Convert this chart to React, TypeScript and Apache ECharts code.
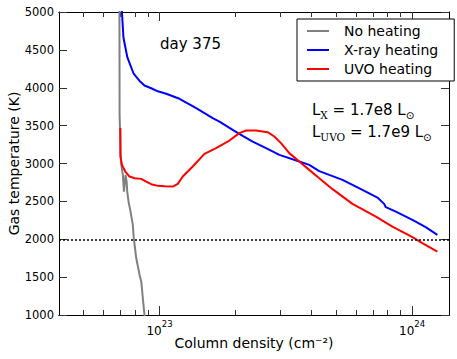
import React, { useEffect, useRef } from 'react';
import * as echarts from 'echarts';

// ---- data ----
const noHeatingN = [6.94e22, 6.95e22, 7.01e22, 7.06e22, 7.16e22, 7.23e22, 7.34e22, 7.41e22, 7.45e22, 7.54e22, 7.68e22, 7.84e22, 7.91e22, 8.09e22, 8.34e22, 8.47e22, 8.59e22, 8.72e22, 8.8e22];
const noHeatingT = [5200, 3643, 3158, 2982, 2850, 2629, 2850, 2762, 2629, 2497, 2365, 2189, 2014, 1749, 1529, 1440, 1221, 1000, 870];

const xrayN = [7.08e22, 7.10e22, 7.20e22, 7.46e22, 7.90e22, 8.34e22, 8.72e22, 9.27e22, 9.85e22, 1.063e23, 1.20e23, 1.397e23, 1.624e23, 1.727e23, 1.949e23, 2.134e23, 2.338e23, 2.641e23, 2.982e23, 3.576e23, 3.916e23, 4.29e23, 4.698e23, 5.303e23, 5.808e23, 6.561e23, 7.292e23, 7.749e23, 7.87e23, 8.619e23, 1.003e24, 1.132e24, 1.259e24];
const xrayT = [5100, 4991, 4660, 4400, 4185, 4090, 4030, 3993, 3953, 3920, 3854, 3731, 3599, 3554, 3445, 3365, 3290, 3203, 3114, 3026, 2982, 2900, 2850, 2784, 2718, 2629, 2550, 2467, 2423, 2365, 2255, 2159, 2057];

const uvoN = [7.0e22, 7.0e22, 7.10e22, 7.32e22, 7.61e22, 7.97e22, 8.47e22, 8.86e22, 9.27e22, 9.85e22, 1.047e23, 1.129e23, 1.181e23, 1.236e23, 1.354e23, 1.506e23, 1.675e23, 1.891e23, 2.071e23, 2.201e23, 2.411e23, 2.68e23, 2.848e23, 3.027e23, 3.265e23, 3.576e23, 3.916e23, 4.29e23, 4.842e23, 5.808e23, 7.187e23, 8.357e23, 1.003e24, 1.098e24, 1.259e24];
const uvoT = [3467, 3092, 2982, 2894, 2828, 2806, 2797, 2762, 2727, 2705, 2700, 2696, 2731, 2828, 2960, 3128, 3203, 3303, 3401, 3435, 3435, 3414, 3356, 3269, 3137, 3026, 2916, 2806, 2661, 2467, 2299, 2167, 2027, 1948, 1837];

const seriesNames = ['No heating', 'X-ray heating', 'UVO heating'];
const xMajorTicks = [1e23, 1e24];
const xMinorTicks = [5e22, 6e22, 7e22, 8e22, 9e22, 2e23, 3e23, 4e23, 5e23, 6e23, 7e23, 8e23, 9e23];
const X_MIN = 4e22;
const X_MAX = 1.4e24;
const Y_MIN = 1000;
const Y_MAX = 5000;
const Y_STEP = 500;
const refTemperature = 2000;

const FONT = 'DejaVu Sans';
const lg = (v: number) => Math.log10(v);
const pairs = (n: number[], t: number[]) => n.map((v, i) => [lg(v), t[i]]);

export default function App() {
  const ref = useRef<HTMLDivElement>(null);
  useEffect(() => {
    document.body.style.margin = '0';
    const chart = echarts.init(ref.current!, undefined, { renderer: 'svg' });
    const axisLine = { show: true, lineStyle: { color: '#000', width: 1 } };
    const tickColor = '#333';
    const mkX = (position: string, ticks: number[], len: number, labels: boolean, name?: string) => ({
      type: 'value',
      position,
      min: lg(X_MIN),
      max: lg(X_MAX),
      axisLine,
      splitLine: { show: false },
      axisTick: { show: true, inside: true, length: len, customValues: ticks.map(lg), lineStyle: { color: tickColor, width: 1 } },
      axisLabel: labels
        ? {
            show: true,
            customValues: xMajorTicks.map(lg),
            margin: 4,
            formatter: (v: number) => `{b|10}{s|${Math.round(v)}}`,
            rich: {
              b: { fontSize: 12, fontFamily: FONT, color: '#000', lineHeight: 18, verticalAlign: 'bottom' },
              s: { fontSize: 8.5, fontFamily: FONT, color: '#000', lineHeight: 8, verticalAlign: 'top' },
            },
          }
        : { show: false },
      name,
      nameLocation: 'middle',
      nameGap: 21,
      nameMoveOverlap: false,
      nameTextStyle: { fontSize: 14, fontFamily: FONT, color: '#000' },
    });
    const mkY = (position: string, labels: boolean, name?: string) => ({
      type: 'value',
      position,
      min: Y_MIN,
      max: Y_MAX,
      interval: Y_STEP,
      axisLine,
      splitLine: { show: false },
      axisTick: { show: true, inside: true, length: 8, lineStyle: { color: tickColor, width: 1 } },
      axisLabel: labels
        ? { show: true, fontSize: 11.5, fontFamily: FONT, color: '#000', margin: 5, showMinLabel: true, showMaxLabel: true, formatter: (v: number) => String(v) }
        : { show: false },
      name,
      nameLocation: 'middle',
      nameGap: 38,
      nameMoveOverlap: false,
      nameTextStyle: { fontSize: 14, fontFamily: FONT, color: '#000' },
    });
    const subRich = {
      m: { fontSize: 15, fontFamily: FONT, fill: '#000', lineHeight: 22, verticalAlign: 'middle' },
      s: { fontSize: 10.5, fontFamily: 'DejaVu Serif', fill: '#000', lineHeight: 14, verticalAlign: 'bottom' },
      o: { fontSize: 10.5, fontFamily: FONT, fill: '#000', lineHeight: 14, verticalAlign: 'bottom' },
    };
    chart.setOption({
      animation: false,
      backgroundColor: '#fff',
      grid: { left: 59, right: 8, top: 12, bottom: 44, containLabel: false, outerBoundsMode: 'none' },
      xAxis: [
        mkX('bottom', xMajorTicks, 9, true, 'Column density (cm\u207B\u00B2)'),
        mkX('bottom', xMinorTicks, 5, false),
        mkX('top', xMajorTicks, 9, false),
        mkX('top', xMinorTicks, 5, false),
      ],
      yAxis: [mkY('left', true, 'Gas temperature (K)'), mkY('right', false)],
      legend: {
        orient: 'vertical',
        left: 297,
        top: 19,
        padding: [5, 16, 5, 10],
        itemGap: 5,
        itemWidth: 22,
        itemHeight: 2,
        icon: 'rect',
        borderColor: '#000',
        borderWidth: 1,
        borderRadius: 0,
        backgroundColor: '#fff',
        textStyle: { fontSize: 14, fontFamily: FONT, color: '#000', padding: [0, 0, 0, 10] },
        data: seriesNames,
      },
      graphic: [
        { type: 'text', left: 160, top: 36, style: { text: 'day 375', fontSize: 15, fontFamily: FONT, fill: '#000' } },
        { type: 'text', left: 312, top: 102, style: { text: '{m|L}{s|X}{m| = 1.7e8 L}{o|\u2299}', rich: subRich } },
        { type: 'text', left: 312, top: 124, style: { text: '{m|L}{s|UVO}{m| = 1.7e9 L}{o|\u2299}', rich: subRich } },
      ],
      series: [
        {
          name: seriesNames[0],
          type: 'line',
          data: pairs(noHeatingN, noHeatingT),
          showSymbol: false,
          symbol: 'none',
          color: '#808080',
          lineStyle: { color: '#808080', width: 2 },
          clip: true,
          markLine: {
            silent: true,
            symbol: ['none', 'none'],
            label: { show: false },
            lineStyle: { color: '#000', type: [2, 2], width: 1.5 },
            data: [{ yAxis: refTemperature }],
          },
        },
        {
          name: seriesNames[1],
          type: 'line',
          data: pairs(xrayN, xrayT),
          showSymbol: false,
          symbol: 'none',
          color: '#0000ff',
          lineStyle: { color: '#0000ff', width: 2 },
          clip: true,
        },
        {
          name: seriesNames[2],
          type: 'line',
          data: pairs(uvoN, uvoT),
          showSymbol: false,
          symbol: 'none',
          color: '#ff0000',
          lineStyle: { color: '#ff0000', width: 2 },
          clip: true,
        },
      ],
    });
    return () => chart.dispose();
  }, []);
  return <div ref={ref} style={{ width: 457, height: 359 }} />;
}
